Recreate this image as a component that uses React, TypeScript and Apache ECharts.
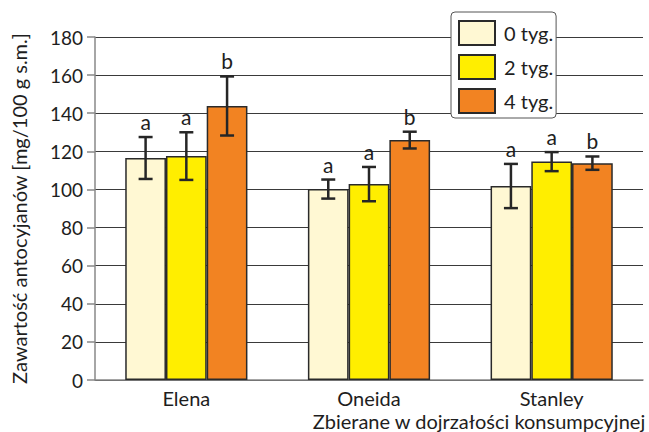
import React, { useEffect, useRef } from 'react';
import * as echarts from 'echarts';

const categories = ['Elena', 'Oneida', 'Stanley'];
const seriesNames = ['0 tyg.', '2 tyg.', '4 tyg.'];
const values0 = [116.5, 100.2, 101.8];
const values2 = [117.5, 102.8, 114.6];
const values4 = [143.8, 125.9, 113.8];
const errors0 = [11, 5, 11.6];
const errors2 = [12.5, 9, 5];
const errors4 = [15.5, 4.4, 3.5];
const letters0 = ['a', 'a', 'a'];
const letters2 = ['a', 'a', 'a'];
const letters4 = ['b', 'b', 'b'];
const colors = ['#FFF8D3', '#FFEE00', '#F28322'];

const FONT = 'Lato';
const TXT = '#1e1e1e';

export default function App() {
  const ref = useRef<HTMLDivElement>(null);
  useEffect(() => {
    if (!ref.current) return;
    const chart = echarts.init(ref.current, null, { renderer: 'svg' });
    const values = [values0, values2, values4];
    const errors = [errors0, errors2, errors4];
    const letters = [letters0, letters2, letters4];
    const barPct = 0.223;

    const barSeries = values.map((vals, s) => ({
      name: seriesNames[s],
      type: 'bar',
      data: vals,
      barWidth: barPct * 100 + '%',
      barGap: '0%',
      itemStyle: { color: colors[s], borderColor: '#2a2a2a', borderWidth: 1.5 },
    }));

    const errSeries = values.map((vals, s) => ({
      name: 'err' + s,
      type: 'custom',
      z: 10,
      data: vals.map((v, i) => [i, v, errors[s][i]]),
      renderItem: (params: any, api: any) => {
        const cat = api.value(0);
        const v = api.value(1);
        const e = api.value(2);
        const band = api.size([1, 0])[0];
        const off = (s - 1) * band * barPct;
        const top = api.coord([cat, v + e]);
        const bot = api.coord([cat, v - e]);
        const x = top[0] + off;
        const cap = 7;
        const st = { stroke: '#262626', lineWidth: 2.5 };
        return {
          type: 'group',
          children: [
            { type: 'line', shape: { x1: x, y1: top[1], x2: x, y2: bot[1] }, style: st },
            { type: 'line', shape: { x1: x - cap, y1: top[1], x2: x + cap, y2: top[1] }, style: st },
            { type: 'line', shape: { x1: x - cap, y1: bot[1], x2: x + cap, y2: bot[1] }, style: st },
            {
              type: 'text',
              x: x,
              y: top[1] - 5,
              style: {
                text: letters[s][params.dataIndex],
                fill: TXT,
                font: `21px ${FONT}`,
                textAlign: 'center',
                textVerticalAlign: 'bottom',
              },
            },
          ],
        };
      },
    }));

    chart.setOption({
      animation: false,
      grid: { left: 95, right: 6, top: 37, bottom: 52 },
      legend: {
        data: seriesNames,
        orient: 'vertical',
        left: 451,
        top: 12,
        itemWidth: 36,
        itemHeight: 24,
        itemGap: 8,
        padding: [8, 3, 4, 7],
        backgroundColor: '#fff',
        borderColor: '#555',
        borderWidth: 1,
        borderRadius: 4,
        icon: 'rect',
        textStyle: { fontFamily: FONT, fontSize: 20, color: TXT, padding: [0, 0, 0, 4] },
      },
      xAxis: {
        type: 'category',
        data: categories,
        axisLine: { lineStyle: { color: '#888', width: 1.5 } },
        axisTick: { length: 6, lineStyle: { color: '#888', width: 1.5 } },
        axisLabel: { fontFamily: FONT, fontSize: 20, color: TXT, margin: 8 },
      },
      yAxis: {
        type: 'value',
        min: 0,
        max: 180,
        interval: 20,
        name: 'Zawartość antocyjanów [mg/100 g s.m.]',
        nameLocation: 'middle',
        nameGap: 66,
        nameTextStyle: { fontFamily: FONT, fontSize: 20, color: TXT },
        axisLine: { show: true, lineStyle: { color: '#888', width: 1.5 } },
        axisTick: { show: true, length: 8, lineStyle: { color: '#888', width: 1.5 } },
        axisLabel: { fontFamily: FONT, fontSize: 19, color: TXT, margin: 12 },
        splitLine: { lineStyle: { color: '#3a3a3a', width: 1 } },
      },
      graphic: [
        {
          type: 'text',
          right: 3,
          top: 411,
          style: {
            text: 'Zbierane w dojrzałości konsumpcyjnej',
            font: `20px ${FONT}`,
            fill: TXT,
          },
        },
      ],
      series: [...barSeries, ...errSeries],
    });
    return () => chart.dispose();
  }, []);
  return <div ref={ref} style={{ width: 649, height: 432, position: 'absolute', left: 0, top: 0 }} />;
}
